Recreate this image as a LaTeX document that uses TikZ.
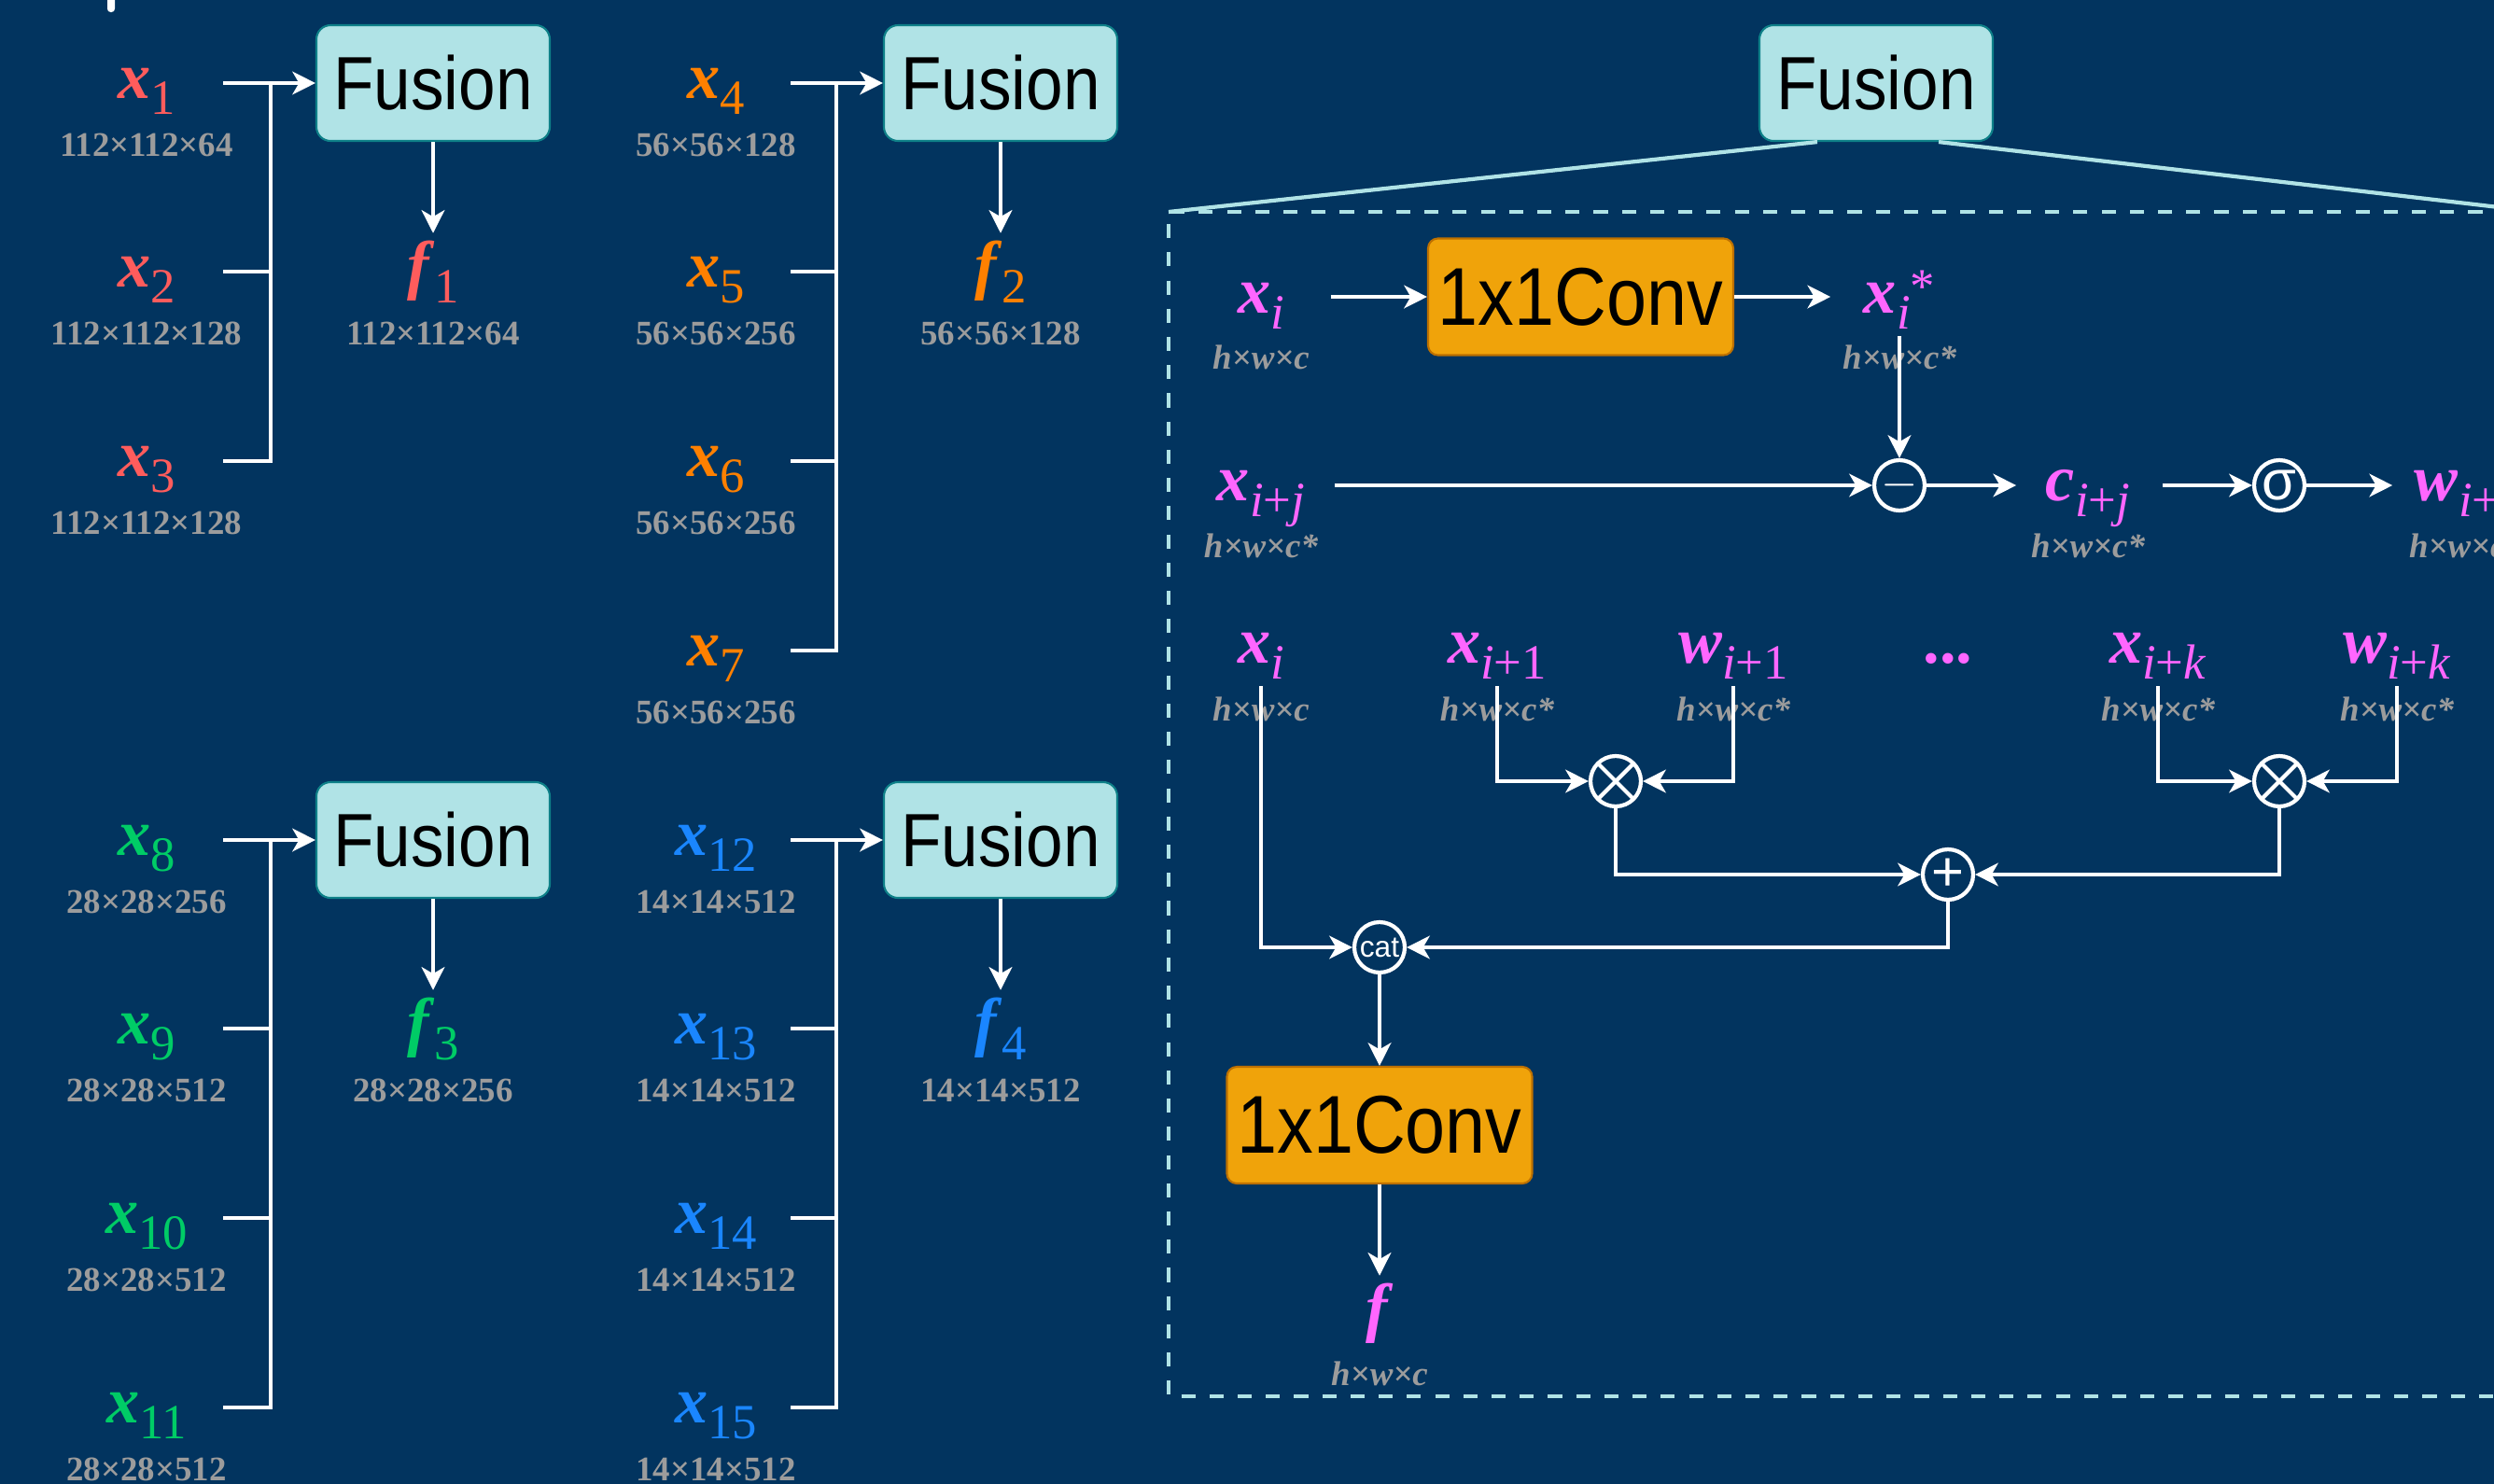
\documentclass[tikz,border=0pt]{standalone}
\usepackage{fontspec}
\setmainfont{Liberation Serif}
\newfontfamily\hv{Liberation Sans}[FakeStretch=0.88]
\newfontfamily\hvs{Liberation Sans}
\usetikzlibrary{arrows.meta}
\newcommand{\lab}[2]{\textbf{\textit{#1}}\raisebox{-5pt}{\fontsize{15}{15}\selectfont#2}}
\begin{document}
\begin{tikzpicture}[font=\fontsize{20}{22}\selectfont,
 fus/.style={rounded corners=4.3pt,fill=fu,draw=fub,line width=0.6pt,minimum width=2.5cm,minimum height=1.24cm,inner sep=0pt,font=\hv\fontsize{23}{24}\selectfont},
 conv/.style={rounded corners=3pt,fill=cv,draw=cvb,line width=0.6pt,minimum width=3.27cm,minimum height=1.25cm,inner sep=0pt,font=\hv\fontsize{25}{26}\selectfont},
 wire/.style={white,line width=1.2pt},
 arr/.style={wire,-{Stealth[length=7pt,width=7pt,inset=2pt]}},
 op/.style={circle,draw=white,line width=1.2pt,minimum size=0.54cm,inner sep=0pt,text=white,font=\fontsize{15}{15}\selectfont},
 mulop/.style={path picture={\draw[white,line width=1.2pt] (path picture bounding box.north west) -- (path picture bounding box.south east) (path picture bounding box.north east) -- (path picture bounding box.south west);}},
 lbl/.style={anchor=base,inner sep=2pt},
 dim/.style={anchor=base,text=dimc,inner sep=1pt,font=\fontsize{10.5}{12}\selectfont\bfseries},
 dimi/.style={dim,font=\fontsize{10.5}{12}\selectfont\bfseries\itshape}]
\definecolor{bg}{HTML}{02345F}\definecolor{fu}{HTML}{B0E3E6}\definecolor{fub}{HTML}{0E8088}\definecolor{cv}{HTML}{F0A30A}\definecolor{cvb}{HTML}{BD7000}\definecolor{rd}{HTML}{FF5C5C}\definecolor{og}{HTML}{FF8000}\definecolor{gn}{HTML}{00CC66}\definecolor{bl}{HTML}{1A86FF}\definecolor{mg}{HTML}{FF66FF}\definecolor{dimc}{HTML}{9C9C9C}
\useasboundingbox (0,0) rectangle (26.72,-15.90);\clip (0,0) rectangle (26.72,-15.90);\fill[bg] (0,0) rectangle (26.72,-15.90);\fill[white,rounded corners=1pt] (1.15,0.1) rectangle (1.23,-0.13);
% stage 1
\foreach \i/\y/\d in {1/0.89/112×112×64,2/2.91/112×112×128,3/4.94/112×112×128}{\node[lbl,text=rd] (x\i) at (1.57,-\y-0.16) {\lab{x}{\i}};\node[dim] (d\i) at (1.57,-\y-0.78) {\d};\coordinate (s\i) at (2.39,-\y);}
\node[fus] (fu1) at (4.64,-0.89) {Fusion};\coordinate (j1) at (2.90,-0.89);\draw[arr] (s1) -- (fu1);\draw[wire] (s2) -- (s2 -| j1);\draw[wire] (s3) -| (j1);
\node[lbl,text=rd] (f1) at (4.64,-3.07) {\lab{f}{1}};\node[dim] (df1) at (4.64,-3.69) {112×112×64};\draw[arr] (fu1) -- (f1);
% stage 2
\foreach \i/\y/\d in {4/0.89/56×56×128,5/2.91/56×56×256,6/4.94/56×56×256,7/6.97/56×56×256}{\node[lbl,text=og] (x\i) at (7.67,-\y-0.16) {\lab{x}{\i}};\node[dim] (d\i) at (7.67,-\y-0.78) {\d};\coordinate (s\i) at (8.47,-\y);}
\node[fus] (fu2) at (10.72,-0.89) {Fusion};\coordinate (j2) at (8.96,-0.89);\draw[arr] (s4) -- (fu2);\draw[wire] (s5) -- (s5 -| j2);\draw[wire] (s6) -- (s6 -| j2);\draw[wire] (s7) -| (j2);
\node[lbl,text=og] (f2) at (10.72,-3.07) {\lab{f}{2}};\node[dim] (df2) at (10.72,-3.69) {56×56×128};\draw[arr] (fu2) -- (f2);
% stage 3
\foreach \i/\y/\d in {8/9.00/28×28×256,9/11.02/28×28×512,10/13.05/28×28×512,11/15.08/28×28×512}{\node[lbl,text=gn] (x\i) at (1.57,-\y-0.16) {\lab{x}{\i}};\node[dim] (d\i) at (1.57,-\y-0.78) {\d};\coordinate (s\i) at (2.39,-\y);}
\node[fus] (fu3) at (4.64,-9.00) {Fusion};\coordinate (j3) at (2.90,-9.00);\draw[arr] (s8) -- (fu3);\draw[wire] (s9) -- (s9 -| j3);\draw[wire] (s10) -- (s10 -| j3);\draw[wire] (s11) -| (j3);
\node[lbl,text=gn] (f3) at (4.64,-11.18) {\lab{f}{3}};\node[dim] (df3) at (4.64,-11.80) {28×28×256};\draw[arr] (fu3) -- (f3);
% stage 4
\foreach \i/\y/\d in {12/9.00/14×14×512,13/11.02/14×14×512,14/13.05/14×14×512,15/15.08/14×14×512}{\node[lbl,text=bl] (x\i) at (7.67,-\y-0.16) {\lab{x}{\i}};\node[dim] (d\i) at (7.67,-\y-0.78) {\d};\coordinate (s\i) at (8.47,-\y);}
\node[fus] (fu4) at (10.72,-9.00) {Fusion};\coordinate (j4) at (8.96,-9.00);\draw[arr] (s12) -- (fu4);\draw[wire] (s13) -- (s13 -| j4);\draw[wire] (s14) -- (s14 -| j4);\draw[wire] (s15) -| (j4);
\node[lbl,text=bl] (f4) at (10.72,-11.18) {\lab{f}{4}};\node[dim] (df4) at (10.72,-11.80) {14×14×512};\draw[arr] (fu4) -- (f4);
% inside the fusion block
\node[fus] (fu5) at (20.10,-0.89) {Fusion};\coordinate (dl) at (12.52,-2.27);\coordinate (dr) at (27.20,-2.27);\draw[fu,line width=1.2pt] ([xshift=0.63cm]fu5.south west) -- (dl);\draw[fu,line width=1.2pt] ([xshift=-0.59cm]fu5.south east) -- (dr);\draw[fu,line width=1.2pt,dash pattern=on 4.3pt off 4.3pt] (dr) -- (dl) -- (12.52,-14.96) -- (27.20,-14.96);
\node[lbl,text=mg] (xa) at (13.51,-3.35) {\lab{x}{\textit{i}}};\node[dimi] (dxa) at (13.51,-3.95) {h×w×c};\node[conv] (cv1) at (16.935,-3.18) {1x1Conv};
\node[lbl,text=mg] (xs) at (20.35,-3.35) {\lab{x}{\textit{i}}\raisebox{3pt}{\fontsize{15}{15}\selectfont*}};\node[dimi] (dxs) at (20.35,-3.95) {h×w×c*};
\draw[arr] ([xshift=0.42cm]xa.east |- cv1) -- (cv1);\draw[arr] (cv1) -- ([xshift=-0.28cm]xs.west |- cv1);
\node[op] (mi) at (20.35,-5.20) {$-$};\node[lbl,text=mg] (xj) at (13.51,-5.36) {\lab{x}{\textit{i}+\textit{j}}};\node[dimi] (dxj) at (13.51,-5.97) {h×w×c*};
\draw[arr] (xs) -- (mi);\draw[arr] ([xshift=0.24cm]xj.east |- mi) -- (mi);
\node[lbl,text=mg] (ci) at (22.37,-5.36) {\lab{c}{\textit{i}+\textit{j}}};\node[dimi] (dci) at (22.37,-5.97) {h×w×c*};\draw[arr] (mi) -- ([xshift=-0.24cm]ci.west |- mi);
\node[op,font=\hvs\fontsize{17}{17}\selectfont] (sg) at (24.42,-5.20) {σ};\draw[arr] ([xshift=0.27cm]ci.east |- sg) -- (sg);
\node[lbl,text=mg] (wj) at (26.40,-5.36) {\lab{w}{\textit{i}+\textit{j}}};\node[dimi] (dwj) at (26.42,-5.97) {h×w×c*};\draw[arr] (sg) -- ([xshift=-0.16cm]wj.west |- sg);
\foreach \n/\x/\t in {ib0/13.51/\lab{x}{\textit{i}},ib1/16.04/\lab{x}{\textit{i}+1},wb1/18.57/\lab{w}{\textit{i}+1},ibk/23.12/\lab{x}{\textit{i}+\textit{k}},wbk/25.68/\lab{w}{\textit{i}+\textit{k}}}{\node[lbl,text=mg] (\n) at (\x,-7.10) {\t};}
\foreach \x/\t in {13.51/h×w×c,16.04/h×w×c*,18.57/h×w×c*,23.12/h×w×c*,25.68/h×w×c*}{\node[dimi] at (\x,-7.72) {\t};}
\node[lbl,text=mg] (dots) at (20.87,-7.10) {\textbf{...}};
\node[op,mulop] (m1) at (17.31,-8.37) {};\node[op,mulop] (m2) at (24.42,-8.37) {};\node[op,font=\hvs\fontsize{17}{17}\selectfont] (ad) at (20.87,-9.37) {+};\node[op,font=\hvs\fontsize{9}{9}\selectfont] (cat) at (14.78,-10.15) {cat};
\draw[arr] (ib0) |- (cat);\draw[arr] (ib1) |- (m1);\draw[arr] (wb1) |- (m1);\draw[arr] (ibk) |- (m2);\draw[arr] (wbk) |- (m2);\draw[arr] (m1) |- (ad);\draw[arr] (m2) |- (ad);\draw[arr] (ad) |- (cat);
\node[conv] (cv2) at (14.78,-12.055) {1x1Conv};\draw[arr] (cat) -- (cv2);
\node[lbl,text=mg] (ff) at (14.78,-14.24) {\textbf{\textit{f}}};\node[dimi] (dff) at (14.78,-14.84) {h×w×c};\draw[arr] (cv2) -- (ff);
\end{tikzpicture}
\end{document}
